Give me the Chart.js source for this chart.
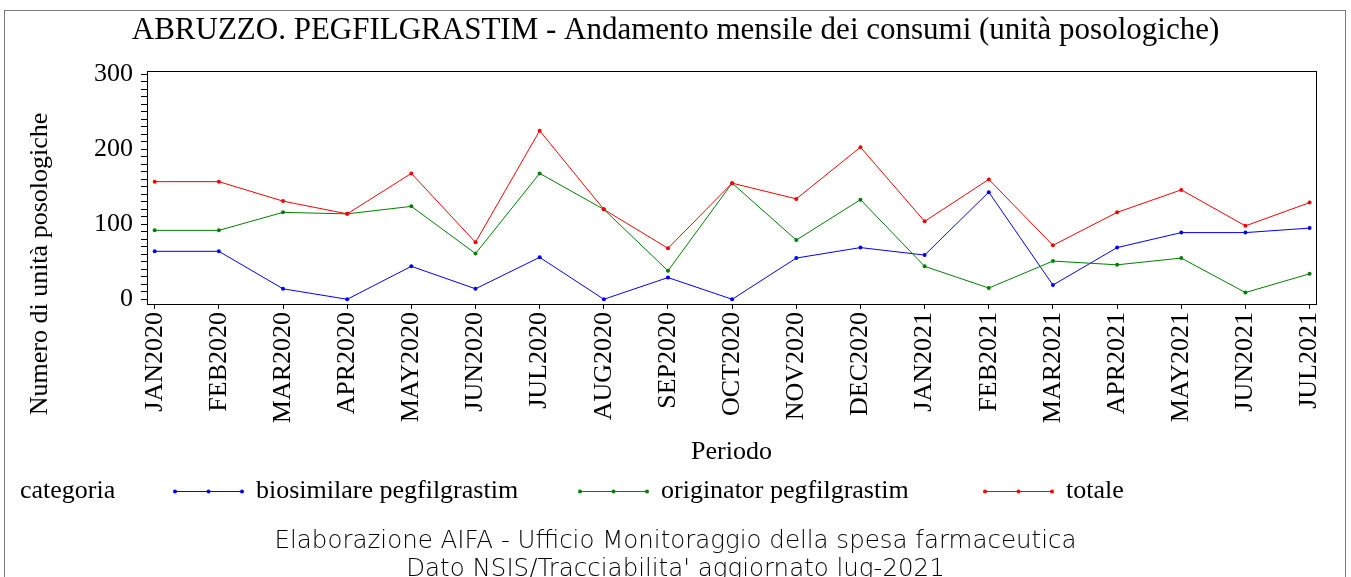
<!DOCTYPE html>
<html>
<head>
<meta charset="utf-8">
<script src="https://cdn.jsdelivr.net/npm/chart.js@4/dist/chart.umd.min.js"></script>
<style>
  body { margin: 0; background: #fff; }
  #wrap { width: 1351px; height: 577px; position: relative; }
</style>
</head>
<body>
<div id="wrap"><canvas id="chart"></canvas></div>
<script>
// months on the x axis
const periodi = ['JAN2020', 'FEB2020', 'MAR2020', 'APR2020', 'MAY2020', 'JUN2020', 'JUL2020',
  'AUG2020', 'SEP2020', 'OCT2020', 'NOV2020', 'DEC2020', 'JAN2021', 'FEB2021', 'MAR2021',
  'APR2021', 'MAY2021', 'JUN2021', 'JUL2021'];

// consumi (unità posologiche)
const biosimilare = [64, 64, 14, 0, 44, 14, 56, 0, 29, 0, 55, 69, 59, 143, 19, 69, 89, 89, 95];
const originator = [92, 92, 116, 114, 124, 61, 168, 120, 38, 155, 79, 133, 44, 15, 51, 46, 55, 9, 34];
const totale = [157, 157, 131, 114, 168, 76, 225, 120, 68, 155, 134, 203, 104, 160, 72, 116, 146, 98, 129];

const yTicks = [0, 100, 200, 300];

const serif = 'Liberation Serif';
Chart.defaults.font.family = serif;
Chart.defaults.color = '#000';

function toPoints(values) {
  return values.map((v, i) => ({ x: i, y: v }));
}

function serie(label, values, color, order) {
  return {
    label: label,
    data: toPoints(values),
    borderColor: color,
    backgroundColor: color,
    pointBackgroundColor: color,
    pointBorderColor: color,
    borderWidth: 1,
    pointRadius: 2,
    pointBorderWidth: 0,
    tension: 0,
    order: order
  };
}

// extra drawing: frame, axis titles, legend, footer
const decorations = {
  id: 'decorations',
  beforeDatasetsDraw(chart) {
    const { ctx, chartArea: a } = chart;
    ctx.save();
    ctx.strokeStyle = '#000';
    ctx.lineWidth = 1;
    ctx.strokeRect(Math.round(a.left) + 0.5, Math.round(a.top) + 0.5,
      Math.round(a.right - a.left), Math.round(a.bottom - a.top));
    ctx.restore();
  },
  afterDraw(chart) {
    const ctx = chart.ctx;
    const a = chart.chartArea;
    ctx.save();

    // outer border
    ctx.strokeStyle = '#7a7a7a';
    ctx.lineWidth = 1;
    ctx.strokeRect(4.5, 10.5, 1341, 620);

    ctx.fillStyle = '#000';
    ctx.textBaseline = 'middle';

    // y axis title
    ctx.save();
    ctx.translate(40, 264);
    ctx.rotate(-Math.PI / 2);
    ctx.textAlign = 'center';
    ctx.font = '26px "' + serif + '"';
    ctx.fillText('Numero di unità posologiche', 0, 0);
    ctx.restore();

    // x axis title
    ctx.textAlign = 'center';
    ctx.font = '26px "' + serif + '"';
    ctx.fillText('Periodo', (a.left + a.right) / 2, 452);

    // legend
    const ly = 491;
    ctx.textAlign = 'left';
    ctx.font = '26px "' + serif + '"';
    ctx.fillText('categoria', 20, ly);
    const keys = [
      { x: 175, text: 'biosimilare pegfilgrastim', color: '#0000ff' },
      { x: 580, text: 'originator pegfilgrastim', color: '#008000' },
      { x: 985, text: 'totale', color: '#ff0000' }
    ];
    keys.forEach(k => {
      ctx.strokeStyle = k.color;
      ctx.fillStyle = k.color;
      ctx.beginPath();
      ctx.moveTo(k.x, ly + 0.5);
      ctx.lineTo(k.x + 67, ly + 0.5);
      ctx.stroke();
      [0, 33.5, 67].forEach(dx => {
        ctx.beginPath();
        ctx.arc(k.x + dx, ly + 0.5, 2, 0, Math.PI * 2);
        ctx.fill();
      });
      ctx.fillStyle = '#000';
      ctx.fillText(k.text, k.x + 81, ly);
    });

    // footer
    ctx.textAlign = 'center';
    ctx.font = '200 24.5px "DejaVu Sans"';
    ctx.fillText('Elaborazione AIFA - Ufficio Monitoraggio della spesa farmaceutica', 675.5, 542);
    ctx.fillText("Dato NSIS/Tracciabilita' aggiornato lug-2021", 675.5, 570);

    ctx.restore();
  }
};

new Chart(document.getElementById('chart'), {
  type: 'line',
  data: {
    datasets: [
      serie('biosimilare pegfilgrastim', biosimilare, '#0000ff', 3),
      serie('originator pegfilgrastim', originator, '#008000', 2),
      serie('totale', totale, '#ff0000', 1)
    ]
  },
  options: {
    responsive: true,
    maintainAspectRatio: false,
    animation: false,
    layout: { padding: { left: 35, right: 35, top: 0, bottom: 0 } },
    plugins: {
      legend: { display: false },
      tooltip: { enabled: false },
      title: {
        display: true,
        text: 'ABRUZZO. PEGFILGRASTIM - Andamento mensile dei consumi (unità posologiche)',
        color: '#000',
        font: { family: serif, size: 31, weight: 'normal', lineHeight: 1.2 },
        padding: { top: 12, bottom: 22 }
      }
    },
    scales: {
      x: {
        type: 'linear',
        min: -0.12,
        max: 18.1,
        afterBuildTicks: (scale) => {
          scale.ticks = periodi.map((p, i) => ({ value: i }));
        },
        afterFit: (scale) => { scale.height = 273; },
        ticks: {
          autoSkip: false,
          minRotation: 90,
          maxRotation: 90,
          padding: 3,
          font: { size: 26 },
          color: '#000',
          callback: (v) => periodi[v]
        },
        grid: { drawOnChartArea: false, tickLength: 5, color: '#000' },
        border: { color: '#000' }
      },
      y: {
        type: 'linear',
        min: -6.3,
        max: 304.4,
        afterBuildTicks: (scale) => {
          const t = [];
          for (let v = yTicks[0]; v <= yTicks[yTicks.length - 1]; v += 10) t.push({ value: v });
          scale.ticks = t;
        },
        afterFit: (scale) => { scale.width = 112; },
        ticks: {
          autoSkip: false,
          padding: 8,
          font: { size: 26 },
          color: '#000',
          callback: (v) => (yTicks.includes(v) ? String(v) : '')
        },
        grid: { drawOnChartArea: false, tickLength: 6, color: '#000' },
        border: { color: '#000' }
      }
    }
  },
  plugins: [decorations]
});
</script>
</body>
</html>
